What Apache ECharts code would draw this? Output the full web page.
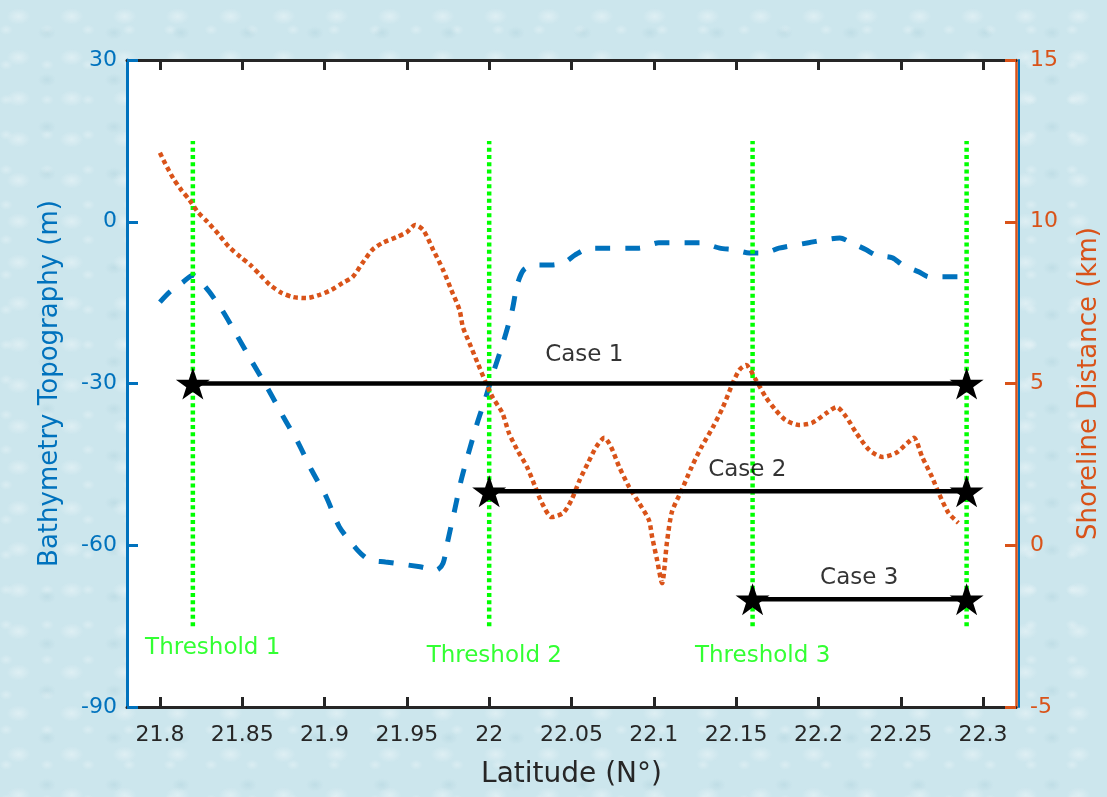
<!DOCTYPE html>
<html>
<head>
<meta charset="utf-8">
<script src="https://cdn.jsdelivr.net/npm/echarts@6/dist/echarts.min.js"></script>
<style>
  html, body { margin: 0; padding: 0; }
  body {
    width: 1107px; height: 797px; overflow: hidden;
    background-color: #cce6ed;
    background-image:
      radial-gradient(ellipse 16px 11px at 35% 40%, rgba(255,255,255,0.35), rgba(255,255,255,0) 75%),
      radial-gradient(ellipse 12px 9px at 70% 70%, rgba(150,192,204,0.22), rgba(150,192,204,0) 75%),
      radial-gradient(ellipse 9px 7px at 15% 85%, rgba(255,255,255,0.28), rgba(255,255,255,0) 75%);
    background-size: 53px 41px, 67px 47px, 41px 35px;
  }
  #chart { width: 1107px; height: 797px; }
</style>
</head>
<body>
<div id="chart"></div>
<script>
// ---------------- data ----------------
const xTicks = [21.8, 21.85, 21.9, 21.95, 22, 22.05, 22.1, 22.15, 22.2, 22.25, 22.3];

const bathyLat = [21.800, 21.806, 21.814, 21.820, 21.824, 21.830, 21.838, 21.847, 21.856, 21.866,
  21.875, 21.884, 21.892, 21.901, 21.909, 21.920, 21.927, 21.937, 21.958, 21.968,
  21.972, 21.975, 21.979, 21.983, 21.988, 21.993, 21.998, 22.003, 22.009, 22.014,
  22.017, 22.021, 22.028, 22.038, 22.046, 22.052, 22.061, 22.091, 22.103, 22.128,
  22.140, 22.149, 22.158, 22.167, 22.176, 22.194, 22.213, 22.220, 22.229, 22.235,
  22.245, 22.251, 22.261, 22.267, 22.279, 22.290];
const bathyVal = [-14.9, -13.0, -11.2, -9.9, -10.8, -13.0, -16.5, -21.2, -26.0, -31.2,
  -36.2, -41.0, -46.0, -51.0, -56.6, -60.9, -62.7, -63.1, -64.0, -64.6,
  -63.3, -59.0, -53.5, -47.9, -42.3, -37.1, -32.5, -27.5, -21.9, -16.4,
  -11.7, -8.9, -8.0, -8.0, -7.5, -6.2, -4.9, -4.9, -3.9, -3.9,
  -4.9, -5.2, -5.8, -5.8, -4.9, -3.9, -3.0, -3.9, -5.2, -6.2,
  -6.7, -8.0, -9.3, -10.2, -10.2, -10.2];

const shoreLat = [21.800, 21.803, 21.808, 21.813, 21.818, 21.823, 21.829, 21.836, 21.842, 21.849,
  21.855, 21.861, 21.867, 21.874, 21.881, 21.889, 21.897, 21.904, 21.911, 21.917,
  21.923, 21.929, 21.935, 21.944, 21.950, 21.955, 21.960, 21.966, 21.972, 21.977,
  21.982, 21.984, 21.988, 21.993, 21.998, 22.002, 22.008, 22.012, 22.017, 22.023,
  22.028, 22.032, 22.038, 22.045, 22.050, 22.055, 22.060, 22.065, 22.070, 22.074,
  22.079, 22.085, 22.091, 22.097, 22.099, 22.102, 22.105, 22.108, 22.111, 22.117,
  22.123, 22.129, 22.136, 22.142, 22.148, 22.152, 22.156, 22.162, 22.168, 22.174,
  22.180, 22.188, 22.196, 22.205, 22.211, 22.217, 22.223, 22.231, 22.239, 22.247,
  22.254, 22.258, 22.263, 22.269, 22.273, 22.279, 22.285];
const shoreVal = [12.13, 11.82, 11.35, 10.98, 10.67, 10.30, 9.99, 9.59, 9.22, 8.91,
  8.66, 8.35, 8.04, 7.80, 7.67, 7.64, 7.74, 7.89, 8.11, 8.29,
  8.72, 9.13, 9.34, 9.53, 9.68, 9.90, 9.74, 9.13, 8.51, 7.89,
  7.27, 6.75, 6.25, 5.63, 5.02, 4.58, 4.09, 3.47, 2.95, 2.42,
  1.80, 1.31, 0.87, 1.00, 1.40, 2.02, 2.54, 3.04, 3.32, 3.04,
  2.42, 1.80, 1.31, 0.78, 0.25, -0.46, -1.17, 0.10, 1.03, 1.71,
  2.42, 3.04, 3.66, 4.27, 5.02, 5.42, 5.57, 5.11, 4.58, 4.18,
  3.87, 3.72, 3.78, 4.09, 4.27, 3.96, 3.47, 2.94, 2.73, 2.85,
  3.16, 3.32, 2.73, 2.11, 1.62, 1.00, 0.69];

const thresholdLat = [21.82, 22.0, 22.16, 22.29];
const thresholdRange = [-75, 15];
const thresholdNames = ['Threshold 1', 'Threshold 2', 'Threshold 3'];
const thresholdNameLat = [21.791, 21.962, 22.125];
const thresholdNameVal = [-79, -80.5, -80.5];

const caseNames = ['Case 1', 'Case 2', 'Case 3'];
const caseStart = [21.82, 22.0, 22.16];
const caseEnd = [22.29, 22.29, 22.29];
const caseLevel = [-30, -50, -70];
const caseNameLat = [22.034, 22.133, 22.201];
const caseNameVal = [-24.7, -46, -66];

// ---------------- styles ----------------
const FONT = 'DejaVu Sans';
const BLUE = '#0072BD';
const ORANGE = '#D95319';
const DARK = '#262626';
const GREEN = '#00FF00';
const STAR = 'path://M50,0 L61.8,35.1 L98.9,35.1 L68.9,56.9 L80.3,91.9 L50,70.2 L19.7,91.9 L31.1,56.9 L1.1,35.1 L38.2,35.1 Z';

const fmt = v => String(+(+v).toFixed(2));

const series = [];

// bathymetry (left axis)
series.push({
  type: 'line', xAxisIndex: 0, yAxisIndex: 0, silent: true, z: 2,
  data: bathyLat.map((x, i) => [x, bathyVal[i]]),
  showSymbol: false, smooth: 0.25,
  lineStyle: { color: BLUE, width: 5, type: [15, 15], cap: 'butt' }
});

// thresholds
thresholdLat.forEach(x => {
  series.push({
    type: 'line', xAxisIndex: 0, yAxisIndex: 0, silent: true, z: 3,
    data: thresholdRange.map(v => [x, v]),
    showSymbol: false,
    lineStyle: { color: GREEN, width: 4.5, type: [4, 3.3] }
  });
});

// shoreline (right axis)
series.push({
  type: 'line', xAxisIndex: 0, yAxisIndex: 1, silent: true, z: 4,
  data: shoreLat.map((x, i) => [x, shoreVal[i]]),
  showSymbol: false, smooth: 0.25,
  lineStyle: { color: ORANGE, width: 4.5, type: [4.5, 3.5] }
});

// cases
caseLevel.forEach((lv, i) => {
  series.push({
    type: 'line', xAxisIndex: 0, yAxisIndex: 0, silent: true, z: 5,
    data: [[caseStart[i], lv], [caseEnd[i], lv]],
    symbol: STAR, symbolSize: [34, 32], showSymbol: true, showAllSymbol: true,
    itemStyle: { color: '#000' },
    lineStyle: { color: '#000', width: 4.5 }
  });
});

// text labels
series.push({
  type: 'scatter', xAxisIndex: 0, yAxisIndex: 0, silent: true, z: 6,
  symbolSize: 0,
  data: thresholdNames.map((n, i) => ({ name: n, value: [thresholdNameLat[i], thresholdNameVal[i]] })),
  label: { show: true, position: 'inside', align: 'left', verticalAlign: 'middle',
    formatter: p => p.name, color: GREEN, fontSize: 23, fontFamily: FONT }
});
series.push({
  type: 'scatter', xAxisIndex: 0, yAxisIndex: 0, silent: true, z: 6,
  symbolSize: 0,
  data: caseNames.map((n, i) => ({ name: n, value: [caseNameLat[i], caseNameVal[i]] })),
  label: { show: true, position: 'inside', align: 'left', verticalAlign: 'middle',
    formatter: p => p.name, color: '#000000', fontSize: 23, fontFamily: FONT }
});

const chart = echarts.init(document.getElementById('chart'), null, { renderer: 'canvas' });
chart.setOption({
  animation: false,
  backgroundColor: 'transparent',
  grid: { left: 127, right: 91, top: 60, bottom: 90, containLabel: false, outerBoundsMode: 'none',
    show: true, backgroundColor: '#ffffff', borderWidth: 0 },
  xAxis: [
    {
      type: 'value', position: 'bottom', min: 21.78, max: 22.32,
      axisLine: { show: true, onZero: false, lineStyle: { color: DARK, width: 3 } },
      axisTick: { show: true, inside: true, length: 10, customValues: xTicks, lineStyle: { color: DARK, width: 3 } },
      axisLabel: { show: true, customValues: xTicks, formatter: fmt, color: DARK, fontSize: 22, fontFamily: FONT, margin: 17 },
      splitLine: { show: false },
      name: 'Latitude (N°)', nameLocation: 'middle', nameGap: 54,
      nameTextStyle: { color: DARK, fontSize: 28, fontFamily: FONT }
    },
    {
      type: 'value', position: 'top', min: 21.78, max: 22.32,
      axisLine: { show: true, onZero: false, lineStyle: { color: DARK, width: 3 } },
      axisTick: { show: true, inside: true, length: 10, customValues: xTicks, lineStyle: { color: DARK, width: 3 } },
      axisLabel: { show: false },
      splitLine: { show: false }
    }
  ],
  yAxis: [
    {
      type: 'value', position: 'left', min: -90, max: 30, interval: 30,
      axisLine: { show: true, onZero: false, lineStyle: { color: BLUE, width: 3 } },
      axisTick: { show: true, inside: true, length: 11, lineStyle: { color: BLUE, width: 3 } },
      axisLabel: { color: BLUE, fontSize: 22, fontFamily: FONT, margin: 10 },
      splitLine: { show: false },
      name: 'Bathymetry Topography (m)', nameLocation: 'middle', nameRotate: 90, nameGap: 64,
      nameTextStyle: { color: BLUE, fontSize: 26, fontFamily: FONT }
    },
    {
      type: 'value', position: 'right', min: -5, max: 15, interval: 5,
      axisLine: { show: true, onZero: false, lineStyle: { color: ORANGE, width: 2.5 } },
      axisTick: { show: true, inside: true, length: 11, lineStyle: { color: ORANGE, width: 3 } },
      axisLabel: { color: ORANGE, fontSize: 22, fontFamily: FONT, margin: 14 },
      splitLine: { show: false },
      name: 'Shoreline Distance (km)', nameLocation: 'middle', nameRotate: 90, nameGap: 60,
      nameTextStyle: { color: ORANGE, fontSize: 26, fontFamily: FONT }
    },
    {
      type: 'value', position: 'right', offset: 2.5, min: -5, max: 15, interval: 5,
      axisLine: { show: true, onZero: false, lineStyle: { color: BLUE, width: 2 } },
      axisTick: { show: false }, axisLabel: { show: false }, splitLine: { show: false }
    }
  ],
  series: series
});
</script>
</body>
</html>
